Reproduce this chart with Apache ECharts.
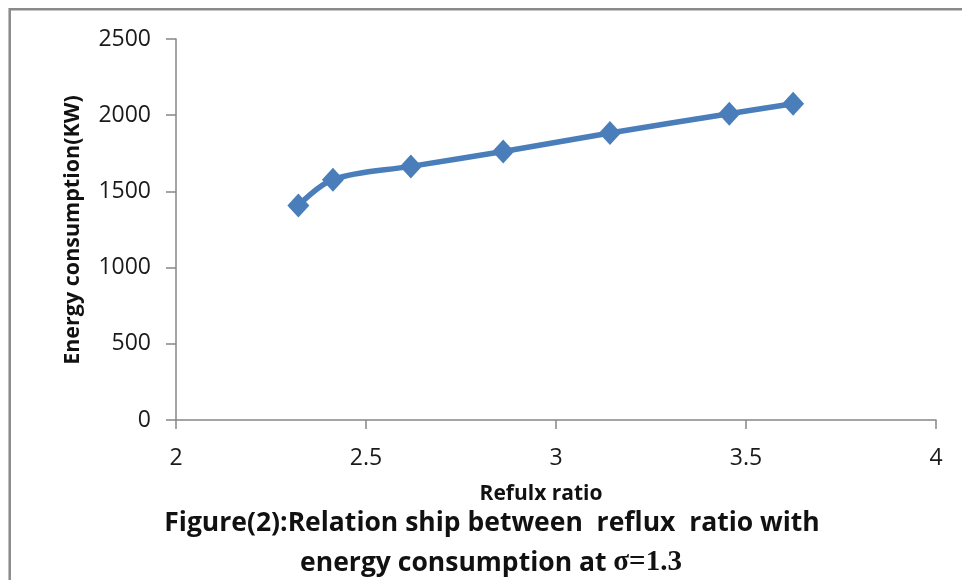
<!DOCTYPE html>
<html>
<head>
<meta charset="utf-8">
<script src="https://cdn.jsdelivr.net/npm/echarts@6/dist/echarts.min.js"></script>
<style>
html,body{margin:0;padding:0;background:#fff;}
#chart{width:962px;height:580px;}
</style>
</head>
<body>
<div id="chart"></div>
<script>
// Data
const refluxRatio = [2.322, 2.413, 2.618, 2.861, 3.142, 3.456, 3.624];
const energyKW = [1408, 1577, 1664, 1762, 1883, 2010, 2075];
const xTicks = [2, 2.5, 3, 3.5, 4];
const yTicks = [0, 500, 1000, 1500, 2000, 2500];
const xTitle = 'Refulx ratio';
const yTitle = 'Energy consumption(KW)';
const captionLine1 = 'Figure(2):Relation ship between  reflux  ratio with';
const captionLine2a = 'energy consumption at ';
const captionLine2b = 'σ=1.3';

const points = refluxRatio.map((x, i) => [x, energyKW[i]]);
const axisColor = '#868686';
const labelColor = '#1a1a1a';
const font = '"Open Sans", "Liberation Sans", sans-serif';

const chart = echarts.init(document.getElementById('chart'), null, {renderer: 'canvas'});
chart.setOption({
  animation: false,
  backgroundColor: '#ffffff',
  grid: {left: 176, right: 26, top: 39, bottom: 160, containLabel: false},
  xAxis: {
    type: 'value',
    min: xTicks[0], max: xTicks[xTicks.length - 1], interval: 0.5,
    axisLine: {show: true, lineStyle: {color: axisColor, width: 1.5}},
    axisTick: {show: true, inside: false, length: 9, lineStyle: {color: axisColor, width: 1.5}},
    splitLine: {show: false},
    axisLabel: {color: labelColor, fontFamily: font, fontSize: 23, margin: 27,
      formatter: v => String(v)},
    name: xTitle,
    nameLocation: 'middle',
    nameGap: 64,
    nameTextStyle: {color: '#111', fontFamily: font, fontWeight: 'bold', fontSize: 21, padding: [0, 30, 0, 0]}
  },
  yAxis: {
    type: 'value',
    min: yTicks[0], max: yTicks[yTicks.length - 1], interval: 500,
    axisLine: {show: true, lineStyle: {color: axisColor, width: 1.5}},
    axisTick: {show: true, inside: false, length: 10, lineStyle: {color: axisColor, width: 1.5}},
    splitLine: {show: false},
    axisLabel: {color: labelColor, fontFamily: font, fontSize: 23, margin: 25,
      formatter: v => String(v)}
  },
  series: [{
    type: 'line',
    data: points,
    smooth: 0.35,
    symbol: 'diamond',
    symbolSize: [22, 24],
    lineStyle: {color: '#4a7ebb', width: 5.5},
    itemStyle: {color: '#4a7ebb'}
  }],
  graphic: [
    {
      type: 'polyline',
      shape: {points: [[9.7, 580], [9.7, 9.3], [962, 9.3]]},
      style: {stroke: '#8a8a8a', lineWidth: 2.5, fill: null},
      silent: true
    },
    {
      type: 'text',
      x: 73, y: 230,
      rotation: Math.PI / 2,
      style: {
        text: yTitle,
        fill: '#111',
        font: 'bold 21.5px "Open Sans", sans-serif',
        textAlign: 'center',
        textVerticalAlign: 'middle'
      }
    },
    {
      type: 'text',
      x: 492, y: 523,
      style: {
        text: captionLine1,
        fill: '#111',
        font: 'bold 26.5px "Open Sans", sans-serif',
        textAlign: 'center',
        textVerticalAlign: 'middle'
      }
    },
    {
      type: 'text',
      x: 491, y: 563,
      style: {
        text: '{a|' + captionLine2a + '}{b|' + captionLine2b + '}',
        textAlign: 'center',
        textVerticalAlign: 'middle',
        rich: {
          a: {fill: '#111', fontFamily: '"Open Sans", sans-serif', fontWeight: 'bold', fontSize: 26.5},
          b: {fill: '#111', fontFamily: '"Liberation Serif", serif', fontWeight: 'bold', fontSize: 29}
        }
      }
    }
  ]
});
</script>
</body>
</html>
